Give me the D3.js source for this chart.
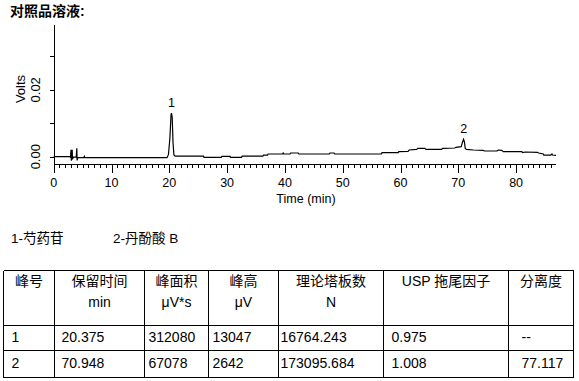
<!DOCTYPE html>
<html>
<head>
<meta charset="utf-8">
<script src="https://cdn.jsdelivr.net/npm/d3@7"></script>
<style>
  body { margin: 0; background: #fff; }
  svg { display: block; }
  text { font-family: Arial, "Liberation Sans", "Noto Sans CJK SC", sans-serif; fill: #000; }
</style>
</head>
<body>
<svg id="chart" width="579" height="381"></svg>
<script>
// -------------- DATA ----------------- //

// chromatogram trace: [time (min), volts]
const trace = [
  [0, 0], [2.8, 0], [2.9, -0.0002], [3.0, 0.0021], [3.05, -0.0012], [3.2, 0.0021],
  [3.25, -0.0008], [3.4, -0.0001], [3.9, -0.0001], [4.0, 0.0025], [4.05, -0.0011],
  [4.15, -0.0003], [5.2, -0.0003], [5.3, 0.0001], [5.4, -0.0003], [19.6, -0.0003],
  [19.85, 0.0006], [20.1, 0.0055], [20.3, 0.0125], [20.375, 0.0130], [20.5, 0.0118],
  [20.65, 0.004], [20.8, 0.0005], [21.0, 0.0002], [25.9, 0.0002], [26.0, -0.0002],
  [29.0, -0.0002], [29.1, 0.0001], [30.5, 0.0001], [30.6, -0.0002], [32.5, -0.0002],
  [32.6, 0.0002], [36.2, 0.0002], [36.3, 0.0005], [37.0, 0.0005], [37.1, 0.0008],
  [39.6, 0.0008], [39.7, 0.0011], [39.8, 0.0008], [40.9, 0.0008], [41.0, 0.0011],
  [42.3, 0.0011], [42.4, 0.0008], [47.7, 0.0008], [47.8, 0.0011], [48.5, 0.0011],
  [48.6, 0.0008], [56.7, 0.0008], [56.8, 0.0012], [59.6, 0.0012], [59.7, 0.0015],
  [61.3, 0.0016], [61.5, 0.002], [62.8, 0.0022], [63.0, 0.0025], [64.2, 0.0025],
  [64.4, 0.0022], [67.1, 0.0022], [67.3, 0.0025], [69.4, 0.0026], [69.6, 0.0028],
  [70.5, 0.003], [70.7, 0.0042], [70.9, 0.0052], [71.05, 0.0045], [71.2, 0.0025],
  [71.4, 0.0022], [72.6, 0.002], [74.3, 0.0019], [74.5, 0.0017], [76.7, 0.0017],
  [76.9, 0.002], [77.5, 0.0019], [77.8, 0.0015], [81.0, 0.0015], [81.1, 0.0012],
  [81.6, 0.0014], [83.7, 0.0013], [83.9, 0.0011], [84.7, 0.0008], [84.8, 0.0005],
  [86.0, 0.0005], [86.2, 0.0008], [86.3, 0.0005], [86.9, 0.0004]
];

// labelled peaks
const peakLabels = ["1", "2"];
const peakTimes = [20.375, 70.948];
const peakTops = [0.0130, 0.0052];

const xTicks = [0, 10, 20, 30, 40, 50, 60, 70, 80];
const yTicks = [0, 0.01, 0.02, 0.03];
const yTickLabels = ["0.00", "", "0.02", ""];

const legendItems = ["1-芍药苷", "2-丹酚酸 B"];

// table
const headerTop = ["峰号", "保留时间", "峰面积", "峰高", "理论塔板数", "USP 拖尾因子", "分离度"];
const headerUnit = ["", "min", "μV*s", "μV", "N", "", ""];
const peakNo = ["1", "2"];
const retentionTime = ["20.375", "70.948"];
const peakArea = ["312080", "67078"];
const peakHeight = ["13047", "2642"];
const plateCount = ["16764.243", "173095.684"];
const tailingFactor = ["0.975", "1.008"];
const resolution = ["--", "77.117"];

// -------------- SETUP ----------------- //

const svg = d3.select("#chart");
svg.append("rect").attr("width", 579).attr("height", 381).attr("fill", "#fff");

const x = d3.scaleLinear().domain([0, 86.9]).range([53.7, 556]);
const y = d3.scaleLinear().domain([0, 0.01]).range([156.7, 123.25]);
const axisY = 164;

// title
svg.append("text")
  .attr("x", 10).attr("y", 16)
  .attr("font-size", 14).attr("font-weight", "bold")
  .text("对照品溶液:");

// -------------- AXES ----------------- //

// x axis: baseline, minor ticks every minute, major every 10
const xg = svg.append("g").attr("shape-rendering", "crispEdges");
xg.append("line")
  .attr("x1", x(0)).attr("x2", x.range()[1])
  .attr("y1", axisY).attr("y2", axisY)
  .attr("stroke", "#000");
xg.selectAll(".minor")
  .data(d3.range(0, 87))
  .join("line")
  .attr("x1", d => Math.round(x(d)) + 0.5).attr("x2", d => Math.round(x(d)) + 0.5)
  .attr("y1", axisY).attr("y2", d => d % 10 === 0 ? axisY + 9 : axisY + 4)
  .attr("stroke", "#000");
xg.selectAll(".xlab")
  .data(xTicks)
  .join("text")
  .attr("x", d => x(d)).attr("y", 186.5)
  .attr("text-anchor", "middle")
  .attr("font-size", 12.5)
  .text(d => d);
svg.append("text")
  .attr("x", 306).attr("y", 202.5)
  .attr("text-anchor", "middle")
  .attr("font-size", 12.5)
  .text("Time (min)");

// y axis
const yg = svg.append("g").attr("shape-rendering", "crispEdges");
yg.append("line")
  .attr("x1", 54.5).attr("x2", 54.5)
  .attr("y1", 25).attr("y2", axisY)
  .attr("stroke", "#000");
yg.selectAll(".ytick")
  .data(yTicks)
  .join("line")
  .attr("x1", 50).attr("x2", 54.5)
  .attr("y1", d => Math.round(y(d)) + 0.5).attr("y2", d => Math.round(y(d)) + 0.5)
  .attr("stroke", "#000");
svg.selectAll(".ylab")
  .data(yTicks)
  .join("text")
  .attr("transform", d => `translate(40, ${y(d)}) rotate(-90)`)
  .attr("text-anchor", "middle")
  .attr("font-size", 13)
  .text((d, i) => yTickLabels[i]);
svg.append("text")
  .attr("transform", "translate(25, 89) rotate(-90)")
  .attr("text-anchor", "middle")
  .attr("font-size", 13)
  .text("Volts");

// -------------- TRACE ----------------- //

const line = d3.line().x(d => x(d[0])).y(d => y(d[1]));
svg.append("path")
  .datum(trace)
  .attr("d", line)
  .attr("fill", "none")
  .attr("stroke", "#000")
  .attr("stroke-width", 1.2);

svg.selectAll(".peaklab")
  .data(peakLabels)
  .join("text")
  .attr("x", (d, i) => x(peakTimes[i]))
  .attr("y", (d, i) => y(peakTops[i]) - 6)
  .attr("text-anchor", "middle")
  .attr("font-size", 12.5)
  .text(d => d);

// -------------- LEGEND ----------------- //

svg.selectAll(".legend")
  .data(legendItems)
  .join("text")
  .attr("x", (d, i) => 11 + i * 102)
  .attr("y", 243)
  .attr("font-size", 13.5)
  .text(d => d);

// -------------- TABLE ----------------- //

const colEdges = [3.5, 54.5, 144.5, 208.5, 278.5, 383.5, 508.5, 573.5];
const rowEdges = [270.5, 325.5, 350.5, 377.5];
const cellPad = [8, 7, 4, 4, 2, 8, 13];
const columns = [peakNo, retentionTime, peakArea, peakHeight, plateCount, tailingFactor, resolution];

const tg = svg.append("g");
const grid = tg.append("g").attr("shape-rendering", "crispEdges").attr("stroke", "#000");
grid.selectAll(".v")
  .data(colEdges)
  .join("line")
  .attr("x1", d => d).attr("x2", d => d)
  .attr("y1", rowEdges[0]).attr("y2", rowEdges[rowEdges.length - 1]);
grid.selectAll(".h")
  .data(rowEdges)
  .join("line")
  .attr("x1", colEdges[0]).attr("x2", colEdges[colEdges.length - 1])
  .attr("y1", d => d).attr("y2", d => d);

const colMid = i => (colEdges[i] + colEdges[i + 1]) / 2;
tg.selectAll(".h1")
  .data(headerTop)
  .join("text")
  .attr("x", (d, i) => colMid(i)).attr("y", 286)
  .attr("text-anchor", "middle")
  .attr("font-size", 14)
  .text(d => d);
tg.selectAll(".h2")
  .data(headerUnit)
  .join("text")
  .attr("x", (d, i) => colMid(i)).attr("y", 306.5)
  .attr("text-anchor", "middle")
  .attr("font-size", 14)
  .text(d => d);

columns.forEach((col, c) => {
  tg.selectAll(".c" + c)
    .data(col)
    .join("text")
    .attr("x", colEdges[c] + cellPad[c])
    .attr("y", (d, r) => r === 0 ? 341.5 : 368)
    .attr("font-size", 14)
    .text(d => d);
});
</script>
</body>
</html>
